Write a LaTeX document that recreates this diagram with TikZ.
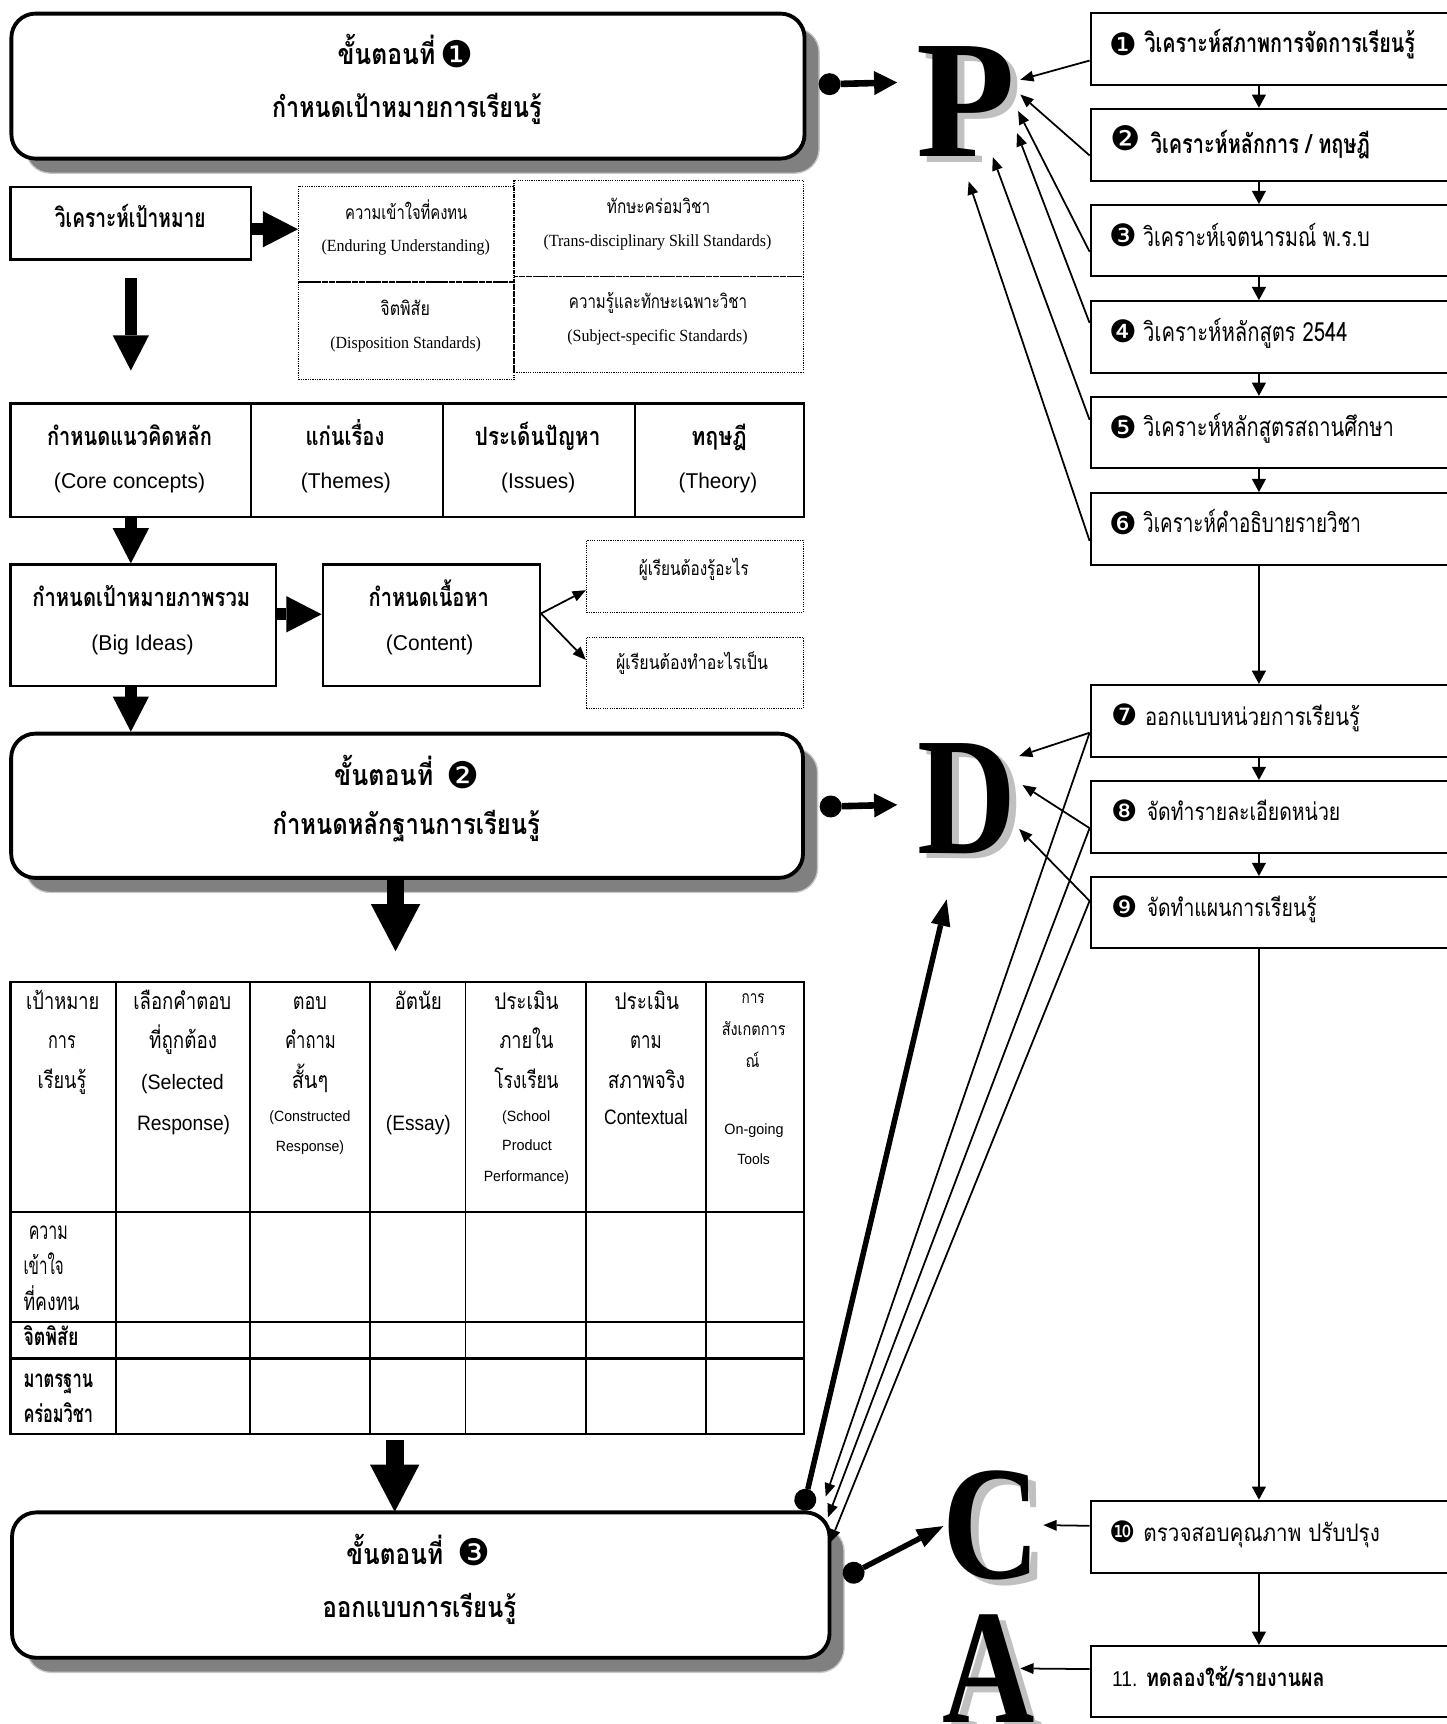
\documentclass[tikz,border=0pt]{standalone}
\usepackage{graphicx}
\usepackage{fontspec}
\setmainfont{Liberation Serif}
\newfontfamily\thai[Script=Thai]{Loma}
\newfontfamily\symf{DejaVu Sans}
\newfontfamily\arialf{Liberation Sans}
\usetikzlibrary{arrows.meta,calc}
\definecolor{shadowfill}{HTML}{808080}
\definecolor{shadowline}{HTML}{C8C8C8}
\definecolor{lettershadow}{HTML}{C0C0C0}
\newcommand\fw[2]{\resizebox{#1pt}{\height}{#2}}
\newcommand\fThB[1]{\thai\bfseries\fontsize{#1}{#1}\selectfont}
\newcommand\fThR[1]{\thai\fontsize{#1}{#1}\selectfont}
\newcommand\fAr[1]{\arialf\fontsize{#1}{#1}\selectfont}
\newcommand\fTm[1]{\rmfamily\fontsize{#1}{#1}\selectfont}
\newcommand\cnum[2]{\resizebox*{!}{#1pt}{\symf #2}}
\newcommand\tnode[4]{\node[txt,anchor=#1] (#2) at (#3) {#4};}
\newcommand\hT[2]{\fw{#1}{\fThR{21}#2}}
\newcommand\hTs[2]{\fw{#1}{\fThR{16}#2}}
\newcommand\hA[2]{\fw{#1}{\fAr{19}#2}}
\newcommand\hAs[2]{\fw{#1}{\fAr{13.5}#2}}
\begin{document}
\begin{tikzpicture}[x=1pt,y=-1pt,
  txt/.style={inner sep=0pt,outer sep=0pt},
  stepbox/.style={draw,fill=white,line width=3.5pt,rounded corners=22pt,inner sep=0pt,anchor=north west},
  lbox/.style={draw,line width=2pt,inner sep=0pt,anchor=north west},
  dbox/.style={draw,densely dotted,line width=1.1pt,inner sep=0pt,anchor=north west},
  rbox/.style={draw,line width=1.8pt,inner sep=0pt,anchor=north west,minimum width=339pt},
  bigL/.style={inner sep=0pt,anchor=base west,font=\rmfamily\bfseries\fontsize{150}{150}\selectfont},
  fatA/.style={line width=11pt,-{Triangle[length=32pt,width=33pt,line width=0pt]}},
  fatB/.style={line width=16pt,-{Triangle[length=43pt,width=45pt,line width=0pt]}},
  thinarrow/.style={line width=1.6pt,-{Triangle[length=12pt,width=10pt,line width=0pt]}},
  colarrow/.style={line width=1.8pt,-{Triangle[length=12pt,width=13pt,line width=0pt]}},
  dotconn/.style={line width=6pt,{Circle[length=20pt,line width=0pt]}-{Triangle[length=21pt,width=22pt,line width=0pt]}},
  thickconn/.style={line width=5pt,{Circle[length=20pt,line width=0pt]}-{Triangle[length=24pt,width=18pt,line width=0pt]}}
]
\useasboundingbox (0,0) rectangle (1316,1568);

% ---------- shadows of step boxes
\filldraw[fill=shadowfill,draw=shadowline,line width=1.2pt,rounded corners=22pt] (23.6,25.6) rectangle (745,157.5);
\filldraw[fill=shadowfill,draw=shadowline,line width=1.2pt,rounded corners=22pt] (23.4,680.5) rectangle (743.6,811.7);
\filldraw[fill=shadowfill,draw=shadowline,line width=1.2pt,rounded corners=22pt] (24.2,1388.8) rectangle (767.7,1521);

% ---------- step boxes
\node[stepbox,minimum width=721.4pt,minimum height=131.9pt] (s1) at (8.6,10.6) {};
\node[stepbox,minimum width=720.2pt,minimum height=131.2pt] (s2) at (8.4,665.5) {};
\node[stepbox,minimum width=743.5pt,minimum height=132.2pt] (s3) at (9.2,1373.8) {};

% ---------- left boxes
\node[lbox,minimum width=218.8pt,minimum height=66pt] (ana) at (8.6,169) {};
\node[dbox,minimum width=196pt,minimum height=87pt] (gA) at (271,169) {};
\node[dbox,minimum width=263pt,minimum height=87.3pt] (gB) at (467,163.7) {};
\node[dbox,minimum width=196pt,minimum height=88.7pt] (gC) at (271,256) {};
\node[dbox,minimum width=263pt,minimum height=87pt] (gD) at (467,251) {};

\node[lbox,minimum width=218.8pt,minimum height=103.3pt] (core) at (8.6,366) {};
\node[lbox,minimum width=174.6pt,minimum height=103.3pt] (them) at (227.4,366) {};
\node[lbox,minimum width=174.5pt,minimum height=103.3pt] (iss) at (402,366) {};
\node[lbox,minimum width=153.5pt,minimum height=103.3pt] (theo) at (576.5,366) {};

\node[lbox,minimum width=241.1pt,minimum height=110.6pt] (big) at (8.6,512.4) {};
\node[lbox,minimum width=197.5pt,minimum height=110.6pt] (cont) at (292.5,512.4) {};
\node[dbox,minimum width=197.2pt,minimum height=65.3pt] (db1) at (532.8,491) {};
\node[dbox,minimum width=197.2pt,minimum height=65pt] (db2) at (532.8,579) {};

% ---------- table
\node[lbox,minimum width=721.6pt,minimum height=411pt] (tbl) at (8.6,892) {};
\foreach \x in {105.6,227.4,336.8,423.4,532.8,642.1} \draw[line width=1.6pt] (\x,892) -- (\x,1303);
\foreach \y in {1102.2,1202.3,1235.7} \draw[line width=2.2pt] (8.6,\y) -- (730.2,\y);

% ---------- right boxes
\node[rbox,minimum height=65pt] (r1) at (991,11) {};
\node[rbox,minimum height=66pt] (r2) at (991,98) {};
\node[rbox,minimum height=65pt] (r3) at (991,185.5) {};
\node[rbox,minimum height=65pt] (r4) at (991,273) {};
\node[rbox,minimum height=64.5pt] (r5) at (991,360) {};
\node[rbox,minimum height=65.5pt] (r6) at (991,447.5) {};
\node[rbox,minimum height=65.5pt] (r7) at (991,622) {};
\node[rbox,minimum height=65.6pt] (r8) at (991,709.4) {};
\node[rbox,minimum height=65pt] (r9) at (991,796.7) {};
\node[rbox,minimum height=66pt] (r10) at (991,1364) {};
\node[rbox,minimum height=65pt] (r11) at (991,1496) {};

\coordinate (col) at (1145,0);
\foreach \a/\b in {r1/r2,r2/r3,r3/r4,r4/r5,r5/r6,r6/r7,r7/r8,r8/r9,r9/r10,r10/r11}
  \draw[colarrow] (\a.south -| col) -- (\b.north -| col);

% ---------- big letters
\node[bigL,text=lettershadow] (Psh) at (840,147.5) {\resizebox{90pt}{100pt}{P}};
\node[bigL] (P) at (833,142.5) {\resizebox{90pt}{100pt}{P}};
\node[bigL,text=lettershadow] (Dsh) at (841,781) {\resizebox{90pt}{100pt}{D}};
\node[bigL] (D) at (834,776) {\resizebox{90pt}{100pt}{D}};
\node[bigL,text=lettershadow] (Csh) at (864,1441) {\resizebox{89pt}{98pt}{C}};
\node[bigL] (C) at (857,1436) {\resizebox{89pt}{98pt}{C}};
\node[bigL,text=lettershadow] (Ash) at (864,1572) {\resizebox{84pt}{98pt}{A}};
\node[bigL] (A) at (857,1567) {\resizebox{84pt}{98pt}{A}};

% ---------- fat arrows (left column)
\coordinate (q1) at ($(ana.east)+(0,5.5)$);
\draw[fatA] (q1) -- (q1 -| gA.west);
\draw[fatA] ($(ana.south)+(0,16)$) -- ($(core.north)+(0,-29)$);
\draw[fatA] (core.south) -- (core.south |- big.north);
\coordinate (q2) at ($(big.east)+(0,-10)$);
\draw[fatA] (q2) -- (q2 -| cont.west);
\draw[fatA] (core.south |- big.south) -- (core.south |- s2.north);
\draw[fatB] ($(s2.south)+(-10.5,0)$) -- ($(s2.south)+(-10.5,65)$);
\draw[fatB] ($(tbl.south)+(-11.4,5)$) -- ($(tbl.south)+(-11.4,70)$);

\coordinate (q3) at ($(cont.east)+(0,-10.7)$);
\draw[thinarrow] (q3) -- ($(db1.south west)!0.31!(db1.north west)$);
\draw[thinarrow] (q3) -- ($(db2.north west)!0.32!(db2.south west)$);

% ---------- connectors to letters
\coordinate (s1o) at ($(s1.east)+(11,-1.5)$);
\coordinate (p0) at (816,75);
\draw[dotconn] (s1o) -- (p0);
\coordinate (s2o) at ($(s2.east)+(13.4,0.9)$);
\coordinate (d0) at (816,732);
\draw[dotconn] (s2o) -- (d0);
\coordinate (s3d) at ($(s3.north east)+(-26.1,0)$);
\coordinate (dtip) at (861,818);
\draw[thickconn] (s3d) -- (dtip);
\coordinate (s3c) at ($(s3.east)+(11.3,-6.6)$);
\coordinate (ctip) at (858,1388);
\draw[thickconn] (s3c) -- (ctip);

% arrows to P
\coordinate (pt1) at (928,72.5);
\coordinate (pt2) at (928,86);
\coordinate (pt3) at (926,101);
\coordinate (pt4) at (925,121);
\coordinate (pt5) at (903,143);
\coordinate (pt6) at (881,165);
\draw[thinarrow] ($(r1.north west)!0.66!(r1.south west)$) -- (pt1);
\draw[thinarrow] ($(r2.north west)!0.64!(r2.south west)$) -- (pt2);
\draw[thinarrow] ($(r3.north west)!0.65!(r3.south west)$) -- (pt3);
\draw[thinarrow] ($(r4.north west)!0.31!(r4.south west)$) -- (pt4);
\draw[thinarrow] ($(r5.north west)!0.33!(r5.south west)$) -- (pt5);
\draw[thinarrow] ($(r6.north west)!0.66!(r6.south west)$) -- (pt6);

% arrows to D and down to step 3
\coordinate (dt1) at (927,687.6);
\coordinate (dt2) at (930,714);
\coordinate (dt3) at (927,754);
\coordinate (st1) at (751,1361);
\coordinate (st2) at (753,1380);
\coordinate (st3) at (755,1403);
\coordinate (e7) at ($(r7.north west)!0.66!(r7.south west)$);
\coordinate (e8) at ($(r8.north west)!0.65!(r8.south west)$);
\coordinate (e9) at ($(r9.north west)!0.34!(r9.south west)$);
\draw[thinarrow] (e7) -- (dt1);
\draw[thinarrow] (e8) -- (dt2);
\draw[thinarrow] (e9) -- (dt3);
\draw[thinarrow] (e7) -- (st1);
\draw[thinarrow] (e8) -- (st2);
\draw[thinarrow] (e9) -- (st3);

% arrows to C and A
\coordinate (ct) at (949,1387.1);
\draw[thinarrow] ($(r10.north west)!0.35!(r10.south west)$) -- (ct);
\coordinate (at) at (928,1517.45);
\draw[thinarrow] ($(r11.north west)!0.33!(r11.south west)$) -- (at);

% ---------- texts: step boxes
\tnode{base}{h1a}{351.5,59}{\fw{89}{\fThB{26}ขั้นตอนที่}}
\node[txt] (h1n) at (416,49) {\cnum{25}{❶}};
\tnode{base}{h1b}{370,107}{\fw{245}{\fThB{26}กำหนดเป้าหมายการเรียนรู้}}
\tnode{base}{h2a}{349,714}{\fw{90}{\fThB{26}ขั้นตอนที่}}
\node[txt] (h2n) at (421,705) {\cnum{25}{❷}};
\tnode{base}{h2b}{369.5,759}{\fw{243}{\fThB{26}กำหนดหลักฐานการเรียนรู้}}
\tnode{base}{h3a}{359,1423}{\fw{88}{\fThB{26}ขั้นตอนที่}}
\node[txt] (h3n) at (431.5,1412) {\cnum{25}{❸}};
\tnode{base}{h3b}{381.5,1471}{\fw{176}{\fThB{26}ออกแบบการเรียนรู้}}

% ---------- texts: upper left
\tnode{base}{anat}{118.5,207}{\fw{137}{\fThB{24}วิเคราะห์เป้าหมาย}}
\tnode{base}{gAt1}{369.5,200}{\fw{111}{\fThR{17.5}ความเข้าใจที่คงทน}}
\tnode{base}{gAt2}{369,229}{\fw{153}{\fTm{15.5}(Enduring Understanding)}}
\tnode{base}{gBt1}{599,194}{\fw{94}{\fThR{17.5}ทักษะคร่อมวิชา}}
\tnode{base}{gBt2}{598,224}{\fw{207}{\fTm{15.5}(Trans-disciplinary Skill Standards)}}
\tnode{base}{gCt1}{368.5,287}{\fw{45}{\fThR{17.5}จิตพิสัย}}
\tnode{base}{gCt2}{369,317}{\fw{137}{\fTm{15.5}(Disposition Standards)}}
\tnode{base}{gDt1}{598.5,280.5}{\fw{162}{\fThR{17.5}ความรู้และทักษะเฉพาะวิชา}}
\tnode{base}{gDt2}{598,311}{\fw{164}{\fTm{15.5}(Subject-specific Standards)}}

\tnode{base}{coret1}{117.8,405}{\fw{150}{\fThB{23}กำหนดแนวคิดหลัก}}
\tnode{base}{coret2}{117.8,444}{\fw{137.5}{\fAr{19.5}(Core concepts)}}
\tnode{base}{themt1}{313.8,405}{\fw{71.5}{\fThB{23}แก่นเรื่อง}}
\tnode{base}{themt2}{314.6,444}{\fw{82}{\fAr{19.5}(Themes)}}
\tnode{base}{isst1}{489,405}{\fw{114}{\fThB{23}ประเด็นปัญหา}}
\tnode{base}{isst2}{489.5,444}{\fw{67.5}{\fAr{19.5}(Issues)}}
\tnode{base}{theot1}{654,405}{\fw{50.5}{\fThB{23}ทฤษฎี}}
\tnode{base}{theot2}{653,444}{\fw{71.4}{\fAr{19.5}(Theory)}}

\tnode{base}{bigt1}{128.5,552}{\fw{198}{\fThB{23}กำหนดเป้าหมายภาพรวม}}
\tnode{base}{bigt2}{129.6,592}{\fw{93}{\fAr{19.5}(Big Ideas)}}
\tnode{base}{contt1}{390,552}{\fw{109.4}{\fThB{23}กำหนดเนื้อหา}}
\tnode{base}{contt2}{390.8,592}{\fw{79.5}{\fAr{19.5}(Content)}}
\tnode{base}{db1t}{631,523}{\fw{100}{\fThR{17.5}ผู้เรียนต้องรู้อะไร}}
\tnode{base}{db2t}{629.4,609}{\fw{138}{\fThR{17.5}ผู้เรียนต้องทำอะไรเป็น}}

% ---------- texts: table header
\tnode{base}{c1a}{57.1,918}{\hT{66.6}{เป้าหมาย}}
\tnode{base}{c1b}{56.4,954}{\hT{25.2}{การ}}
\tnode{base}{c1c}{56.4,990}{\hT{44.2}{เรียนรู้}}
\tnode{base}{c2a}{165.8,918}{\hT{89}{เลือกคำตอบ}}
\tnode{base}{c2b}{166.5,954}{\hT{61.8}{ที่ถูกต้อง}}
\tnode{base}{c2c}{166,991}{\hA{75.2}{(Selected}}
\tnode{base}{c2d}{167,1028.5}{\hA{84.7}{Response)}}
\tnode{base}{c3a}{281.9,918}{\hT{30.9}{ตอบ}}
\tnode{base}{c3b}{282.4,954}{\hT{46.1}{คำถาม}}
\tnode{base}{c3c}{282,990}{\hT{33.3}{สั้นๆ}}
\tnode{base}{c3d}{281.9,1020}{\hAs{73.7}{(Constructed}}
\tnode{base}{c3e}{282,1047.5}{\hAs{62}{Response)}}
\tnode{base}{c4a}{380.5,918}{\hT{43}{อัตนัย}}
\tnode{base}{c4b}{380.5,1028.5}{\hA{59}{(Essay)}}
\tnode{base}{c5a}{478.8,918}{\hT{58.5}{ประเมิน}}
\tnode{base}{c5b}{478.8,954}{\hT{49}{ภายใน}}
\tnode{base}{c5c}{478.8,990}{\hT{58.5}{โรงเรียน}}
\tnode{base}{c5d}{478.6,1020}{\hAs{43.7}{(School}}
\tnode{base}{c5e}{479.3,1046}{\hAs{45.2}{Product}}
\tnode{base}{c5f}{478.8,1075}{\hAs{77.6}{Performance)}}
\tnode{base}{c6a}{588.3,918}{\hT{58.5}{ประเมิน}}
\tnode{base}{c6b}{587.5,954}{\hT{28.6}{ตาม}}
\tnode{base}{c6c}{588,990}{\hT{70.4}{สภาพจริง}}
\tnode{base}{c6d}{587.5,1023}{\hA{76.1}{Contextual}}
\tnode{base}{c7a}{685,913}{\hTs{21}{การ}}
\tnode{base}{c7b}{685.5,942}{\hTs{58}{สังเกตการ}}
\tnode{base}{c7c}{684.4,971}{\hTs{12.7}{ณ์}}
\tnode{base}{c7d}{685.7,1032}{\hAs{53.8}{On-going}}
\tnode{base}{c7e}{685.5,1059.5}{\hAs{29.5}{Tools}}

% ---------- texts: table row labels
\tnode{base west}{rl1}{26.2,1127}{\fw{35.6}{\fThR{22}ความ}}
\tnode{base west}{rl2}{21.4,1159}{\fw{36.6}{\fThR{22}เข้าใจ}}
\tnode{base west}{rl3}{21.4,1192}{\fw{51}{\fThR{22}ที่คงทน}}
\tnode{base west}{rl4}{21.4,1224}{\fw{50}{\fThB{22}จิตพิสัย}}
\tnode{base west}{rl5}{21.4,1262}{\fw{63.3}{\fThB{22}มาตรฐาน}}
\tnode{base west}{rl6}{21.4,1294}{\fw{63.3}{\fThB{22}คร่อมวิชา}}

% ---------- texts: right boxes
\node[txt] (r1n) at (1022,40) {\cnum{21}{❶}};
\tnode{base west}{r1t}{1041,47.5}{\fw{246}{\fThB{24}วิเคราะห์สภาพการจัดการเรียนรู้}}
\node[txt] (r2n) at (1024,126) {\cnum{23}{❷}};
\tnode{base west}{r2t}{1046.7,140}{\fw{199.3}{\fThB{24}วิเคราะห์หลักการ / ทฤษฎี}}
\node[txt] (r3n) at (1022,214) {\cnum{21}{❸}};
\tnode{base west}{r3t}{1039.75,224}{\fw{206}{\fThR{24}วิเคราะห์เจตนารมณ์ พ.ร.บ}}
\node[txt] (r4n) at (1022,301) {\cnum{21}{❹}};
\tnode{base west}{r4t}{1039.75,311}{\fw{186}{\fThR{24}วิเคราะห์หลักสูตร 2544}}
\node[txt] (r5n) at (1022,388.5) {\cnum{21}{❺}};
\tnode{base west}{r5t}{1039.75,397}{\fw{228}{\fThR{24}วิเคราะห์หลักสูตรสถานศึกษา}}
\node[txt] (r6n) at (1022,476) {\cnum{21}{❻}};
\tnode{base west}{r6t}{1039.75,484.4}{\fw{198}{\fThR{24}วิเคราะห์คำอธิบายรายวิชา}}
\node[txt] (r7n) at (1022.5,650) {\cnum{20}{❼}};
\tnode{base west}{r7t}{1041.4,659.5}{\fw{195.6}{\fThR{22}ออกแบบหน่วยการเรียนรู้}}
\node[txt] (r8n) at (1022.5,737) {\cnum{20}{❽}};
\tnode{base west}{r8t}{1043,746.4}{\fw{176}{\fThR{22}จัดทำรายละเอียดหน่วย}}
\node[txt] (r9n) at (1022.5,825) {\cnum{20}{❾}};
\tnode{base west}{r9t}{1043,833.7}{\fw{154.5}{\fThR{22}จัดทำแผนการเรียนรู้}}
\node[txt] (r10n) at (1021,1393) {\cnum{20}{❿}};
\tnode{base west}{r10t}{1040,1402}{\fw{215}{\fThR{22}ตรวจสอบคุณภาพ ปรับปรุง}}
\tnode{base west}{r11a}{1011.5,1534}{\fw{23}{\fAr{19.5}11.}}
\tnode{base west}{r11t}{1042.3,1534}{\fw{162.5}{\fThB{22}ทดลองใช้/รายงานผล}}
\end{tikzpicture}
\end{document}
